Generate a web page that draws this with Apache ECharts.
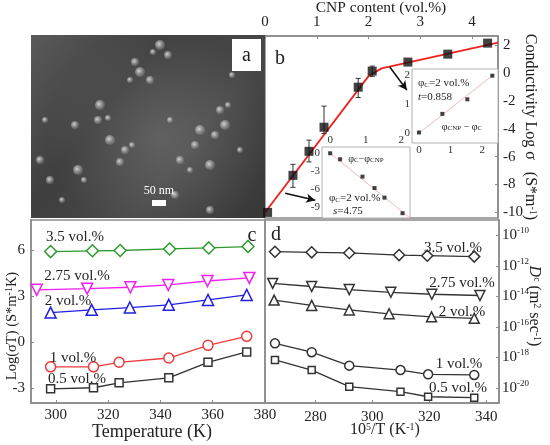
<!DOCTYPE html>
<html><head><meta charset="utf-8">
<script src="https://cdn.jsdelivr.net/npm/echarts@6/dist/echarts.min.js"></script>
<style>html,body{margin:0;padding:0;background:#fff}#c{width:550px;height:445px}</style>
</head><body><div id="c"></div>
<script>
// ---------- Panel b: conductivity vs CNP content ----------
const bX = [0.05, 0.54, 0.85, 1.14, 1.8, 2.07, 2.76, 3.53, 4.3];
const bY = [-10, -7.34, -5.62, -3.89, -1.02, 0.13, 0.78, 1.35, 2.14];
const errX = [0.54, 0.85, 1.14, 1.8, 2.07];
const errLo = [-8.2, -6.38, -4.34, -1.76, -0.25];
const errHi = [-6.55, -4.82, -2.38, -0.39, 0.49];
const fitX = [0, 2.0, 2.25, 4.5];
const fitY = [-10, -0.23, 0.33, 2.17];
const bTicksX = [0, 1, 2, 3, 4];
const bTicksY = [-10, -8, -6, -4, -2, 0, 2];
// inset 1 (above threshold)
const in1X = [0, 0.74, 1.53, 2.32];
const in1Y = [0.02, 0.66, 1.16, 1.97];
const in1FitX = [0, 2.38];
const in1FitY = [0, 2.02];
const in1Ticks = [0, 1, 2];
// inset 2 (below threshold)
const in2X = [0, 0.28, 0.91, 1.25, 1.53, 2.04];
const in2Y = [0, -1, -3.9, -5.8, -7.4, -10.0];
const in2FitX = [0, 2.25];
const in2FitY = [0, -10.8];
const in2TicksX = [0, 1, 2];
const in2TicksY = [-9, -6, -3, 0];
// arrows (annotation start/end in data coords of panel b)
const arrow1 = [[2.41, 0.42], [2.74, -1.23]];
const arrow2 = [[0.39, -8.63], [0.97, -9.13]];

// ---------- Panel c: Log(sigma T) vs Temperature ----------
const cNames = ['3.5 vol.%', '2.75 vol.%', '2 vol.%', '1 vol.%', '0.5 vol.%'];
const cT35 = [298, 314, 324.6, 343.5, 358.5, 373.5];
const cV35 = [5.93, 5.98, 6.0, 6.1, 6.17, 6.26];
const cT275 = [292.7, 312, 328.5, 343, 358, 374];
const cV275 = [3.42, 3.5, 3.59, 3.74, 4.0, 4.2];
const cT2 = [298, 313.7, 328.3, 343.2, 358.2, 373];
const cV2 = [1.93, 2.11, 2.26, 2.44, 2.76, 3.09];
const cT1 = [298, 314.4, 324.2, 343.2, 358.2, 373];
const cV1 = [-1.63, -1.63, -1.33, -1.05, -0.22, 0.37];
const cT05 = [298, 314.4, 324.2, 343.2, 358.2, 373];
const cV05 = [-3.07, -3.0, -2.68, -2.35, -1.33, -0.65];
const cTicksX = [300, 320, 340, 360, 380];
const cTicksY = [-3, 0, 3, 6];

// ---------- Panel d: D^c (log10) vs 10^5/T ----------
const dX35 = [265.8, 278.7, 291.9, 309.4, 319.3, 335.8];
const dV35 = [-11.08, -11.12, -11.16, -11.3, -11.34, -11.4];
const dX275 = [265.0, 278.7, 291.9, 306.5, 320.9, 337.8];
const dV275 = [-13.16, -13.36, -13.56, -13.74, -13.87, -13.95];
const dX2 = [265.5, 278.7, 291.9, 305.9, 320.8, 335.8];
const dV2 = [-14.25, -14.6, -14.9, -15.15, -15.35, -15.45];
const dX1 = [265.8, 278.7, 291.9, 309.9, 319.6, 335.8];
const dV1 = [-17.09, -17.67, -18.55, -18.84, -19.12, -19.16];
const dX05 = [265.8, 278.7, 291.9, 309.9, 319.6, 335.8];
const dV05 = [-18.18, -18.84, -19.93, -20.26, -20.59, -20.65];
const dTicksX = [280, 300, 320, 340];
const dTicksY = [-20, -18, -16, -14, -12, -10];

const zip = (a, b) => a.map((v, i) => [v, b[i]]);
const F = 'Liberation Serif, Times New Roman, serif';
const FRAME = '#8a8a8a';
const DIAMOND = 'path://M0,-1L1,0L0,1L-1,0Z';

const chart = echarts.init(document.getElementById('c'));

function vAxis(o) {
  return Object.assign({
    type: 'value',
    axisLine: {show: true, onZero: false, lineStyle: {color: FRAME, width: 1.5}},
    axisTick: {show: true, inside: true, length: 3, lineStyle: {color: FRAME}, customValues: o.ticks},
    axisLabel: {color: '#222', fontFamily: F, fontSize: 15, margin: 5, customValues: o.ticks},
    splitLine: {show: false}
  }, o.extra || {});
}

function cSeries(name, x, y, color, symbol, rotate, gi, size) {
  return {
    type: 'line', name, xAxisIndex: gi, yAxisIndex: gi,
    data: zip(x, y), symbol, symbolSize: size,
    symbolRotate: rotate || 0,
    lineStyle: {color, width: 1.3},
    itemStyle: {color: '#fff', borderColor: color, borderWidth: 1.5},
    z: 3
  };
}

const supRich = {
  b: {fontSize: 15, fontFamily: F, lineHeight: 18, color: '#222'},
  sup: {fontSize: 9, fontFamily: F, lineHeight: 9, verticalAlign: 'top', color: '#222'}
};

function txt(x, y, text, size, extra) {
  return Object.assign({
    type: 'text', x, y, z: 50,
    style: Object.assign({text, fontFamily: F, fontSize: size, fill: '#222',
      align: 'center', verticalAlign: 'middle'}, (extra && extra.style) || {})
  }, (extra && extra.el) || {});
}

const titleRich = {
  sup: {fontSize: 10, fontFamily: F, lineHeight: 10, verticalAlign: 'top', fill: '#222'},
  sub: {fontSize: 9, fontFamily: F, lineHeight: 9, verticalAlign: 'bottom', fill: '#222'},
  it: {fontStyle: 'italic', fontSize: 16, fontFamily: F, fill: '#222'}
};
const insetRich = {
  sub: {fontSize: 7, fontFamily: F, verticalAlign: 'bottom', lineHeight: 6, fill: '#222'},
  it: {fontStyle: 'italic', fontSize: 11, fontFamily: F, fill: '#222'}
};

// SEM texture: bright nanoparticle clusters (decorative, panel a picture)
const semBlobs = [
  [160,45,5],[168,55,4],[153,52,3],[135,62,4],[140,72,5],[150,80,4],[130,80,3],
  [100,105,5],[98,120,4],[108,118,3],[75,125,4],[110,140,5],[125,150,4],[132,145,3],
  [120,162,4],[78,170,5],[84,180,3],[50,180,4],[200,130,5],[215,135,4],[225,125,5],
  [195,145,4],[180,160,4],[210,165,5],[190,170,3],[220,110,4],[228,105,3],[175,195,4],
  [210,210,4],[45,120,3],[40,160,4],[62,200,3],[240,150,3],[170,120,3],[232,75,3]
];

const option = {
  animation: false,
  backgroundColor: '#fff',
  grid: [
    {left: 265, top: 36, width: 233, height: 182, show: true, borderColor: FRAME, borderWidth: 1.5, backgroundColor: 'transparent'},
    {left: 412, top: 69, width: 86, height: 74, show: true, borderColor: '#b0b0b0', borderWidth: 1, backgroundColor: '#fff', z: 4},
    {left: 322, top: 147, width: 88, height: 71, show: true, borderColor: '#b0b0b0', borderWidth: 1, backgroundColor: '#fff', z: 4},
    {left: 31, top: 220, width: 234, height: 183, show: true, borderColor: FRAME, borderWidth: 1.5},
    {left: 265, top: 220, width: 234, height: 183, show: true, borderColor: FRAME, borderWidth: 1.5}
  ],
  xAxis: [
    vAxis({ticks: bTicksX, extra: {gridIndex: 0, position: 'top', min: 0, max: 4.5,
      axisLabel: {color: '#222', fontFamily: F, fontSize: 15, margin: 6, customValues: bTicksX}}}),
    vAxis({ticks: in1Ticks, extra: {gridIndex: 1, min: -0.22, max: 2.5,
      axisLine: {show: false}, axisTick: {show: false},
      axisLabel: {color: '#333', fontFamily: F, fontSize: 11, margin: 2, customValues: in1Ticks}, z: 5}}),
    vAxis({ticks: in2TicksX, extra: {gridIndex: 2, position: 'top', min: -0.23, max: 2.25,
      axisLine: {show: false}, axisTick: {show: false},
      axisLabel: {color: '#333', fontFamily: F, fontSize: 11, margin: 1, customValues: in2TicksX}, z: 5}}),
    vAxis({ticks: cTicksX, extra: {gridIndex: 3, min: 290.5, max: 380}}),
    vAxis({ticks: dTicksX, extra: {gridIndex: 4, min: 262.3, max: 344.5,
      axisLabel: {color: '#222', fontFamily: F, fontSize: 15, margin: 7, customValues: dTicksX}}})
  ],
  yAxis: [
    vAxis({ticks: bTicksY, extra: {gridIndex: 0, position: 'right', min: -10.4, max: 2.65}}),
    vAxis({ticks: in1Ticks, extra: {gridIndex: 1, min: -0.34, max: 2.2,
      axisLine: {show: false}, axisTick: {show: false},
      axisLabel: {color: '#333', fontFamily: F, fontSize: 11, margin: 2, customValues: in1Ticks}, z: 5}}),
    vAxis({ticks: in2TicksY, extra: {gridIndex: 2, min: -10.8, max: 1.05,
      axisLine: {show: false}, axisTick: {show: false},
      axisLabel: {color: '#333', fontFamily: F, fontSize: 11, margin: 2, customValues: in2TicksY}, z: 5}}),
    vAxis({ticks: cTicksY, extra: {gridIndex: 3, min: -4, max: 8,
      axisLabel: {color: '#222', fontFamily: F, fontSize: 15, margin: 6, customValues: cTicksY}}}),
    vAxis({ticks: dTicksY, extra: {gridIndex: 4, position: 'right', min: -21, max: -9,
      axisLabel: {customValues: dTicksY, margin: 3, formatter: v => '{b|10}{sup|' + v + '}', rich: supRich}}})
  ],
  series: [
    // panel b fit line (red) with arrows
    {type: 'line', xAxisIndex: 0, yAxisIndex: 0, data: zip(fitX, fitY), symbol: 'none',
      lineStyle: {color: '#ee2020', width: 1.8}, z: 2,
      markLine: {silent: true, symbol: ['none', 'arrow'], symbolSize: [7, 9],
        label: {show: false}, lineStyle: {color: '#111', width: 1.6, type: 'solid'},
        data: [[{coord: arrow1[0]}, {coord: arrow1[1]}], [{coord: arrow2[0]}, {coord: arrow2[1]}]]}},
    // error bars
    {type: 'custom', xAxisIndex: 0, yAxisIndex: 0,
      data: errX.map((x, i) => [x, errLo[i], errHi[i]]),
      encode: {x: 0, y: [1, 2]}, z: 3,
      renderItem: (params, api) => {
        const x = api.value(0);
        const p1 = api.coord([x, api.value(2)]);
        const p2 = api.coord([x, api.value(1)]);
        const w = 2.5, st = {stroke: '#333', lineWidth: 1};
        return {type: 'group', children: [
          {type: 'line', shape: {x1: p1[0], y1: p1[1], x2: p2[0], y2: p2[1]}, style: st},
          {type: 'line', shape: {x1: p1[0] - w, y1: p1[1], x2: p1[0] + w, y2: p1[1]}, style: st},
          {type: 'line', shape: {x1: p2[0] - w, y1: p2[1], x2: p2[0] + w, y2: p2[1]}, style: st}
        ]};
      }},
    {type: 'scatter', xAxisIndex: 0, yAxisIndex: 0, data: zip(bX, bY), symbol: 'rect', symbolSize: 9,
      itemStyle: {color: '#111'}, z: 4},
    // inset 1
    {type: 'line', xAxisIndex: 1, yAxisIndex: 1, data: zip(in1FitX, in1FitY), symbol: 'none',
      lineStyle: {color: '#f2b8b8', width: 1}, z: 6},
    {type: 'scatter', xAxisIndex: 1, yAxisIndex: 1, data: zip(in1X, in1Y), symbol: 'rect', symbolSize: 4,
      itemStyle: {color: '#111'}, z: 7},
    // inset 2
    {type: 'line', xAxisIndex: 2, yAxisIndex: 2, data: zip(in2FitX, in2FitY), symbol: 'none',
      lineStyle: {color: '#f2b8b8', width: 1}, z: 6},
    {type: 'scatter', xAxisIndex: 2, yAxisIndex: 2, data: zip(in2X, in2Y), symbol: 'rect', symbolSize: 4,
      itemStyle: {color: '#111'}, z: 7},
    // panel c
    cSeries(cNames[0], cT35, cV35, '#2e9a2e', DIAMOND, 0, 3, 12),
    cSeries(cNames[1], cT275, cV275, '#f020f0', 'triangle', 180, 3, 11),
    cSeries(cNames[2], cT2, cV2, '#2020e0', 'triangle', 0, 3, 11),
    cSeries(cNames[3], cT1, cV1, '#ee3a3a', 'circle', 0, 3, 10),
    cSeries(cNames[4], cT05, cV05, '#333333', 'rect', 0, 3, 8),
    // panel d
    cSeries(cNames[0], dX35, dV35, '#333333', DIAMOND, 0, 4, 11),
    cSeries(cNames[1], dX275, dV275, '#333333', 'triangle', 180, 4, 10),
    cSeries(cNames[2], dX2, dV2, '#333333', 'triangle', 0, 4, 10),
    cSeries(cNames[3], dX1, dV1, '#333333', 'circle', 0, 4, 9),
    cSeries(cNames[4], dX05, dV05, '#333333', 'rect', 0, 4, 7)
  ],
  graphic: [
    // panel a: SEM micrograph placeholder
    {type: 'rect', z: 1, shape: {x: 31, y: 35, width: 234, height: 183},
      style: {fill: {type: 'linear', x: 0, y: 0, x2: 1, y2: 1, colorStops: [
        {offset: 0, color: '#6a6a6a'}, {offset: 0.35, color: '#474747'},
        {offset: 0.65, color: '#525252'}, {offset: 1, color: '#3c3c3c'}]}}},
    {type: 'rect', z: 1, shape: {x: 31, y: 35, width: 234, height: 183},
      style: {fill: {type: 'radial', x: 0.55, y: 0.55, r: 0.6, colorStops: [
        {offset: 0, color: 'rgba(150,150,150,0.25)'}, {offset: 1, color: 'rgba(40,40,40,0.25)'}]}}}
  ].concat(semBlobs.map(b => ({
    type: 'circle', z: 1, shape: {cx: b[0], cy: b[1], r: b[2]},
    style: {fill: {type: 'radial', x: 0.4, y: 0.4, r: 0.6, colorStops: [
      {offset: 0, color: 'rgba(235,235,235,0.85)'}, {offset: 1, color: 'rgba(150,150,150,0.3)'}]}}
  }))).concat([
    {type: 'rect', z: 2, shape: {x: 232, y: 39, width: 29, height: 32}, style: {fill: '#fff'}},
    txt(246.5, 56, 'a', 20),
    txt(159, 191, '50 nm', 12, {style: {fill: '#fff'}}),
    {type: 'rect', z: 2, shape: {x: 152, y: 200, width: 14, height: 6}, style: {fill: '#fff'}},
    // panel letters
    txt(280, 59, 'b', 20),
    txt(252, 236, 'c', 20),
    txt(276, 235, 'd', 20),
    // axis titles
    txt(381, 8, 'CNP content (vol.%)', 15.5),
    txt(530, 127, 'Conductivity Log σ   (S*m{sup|-1})', 16,
      {style: {rich: titleRich}, el: {rotation: -Math.PI / 2}}),
    txt(12, 326, 'Log(σT) (S*m{sup|-1}K)', 14.5,
      {style: {rich: titleRich}, el: {rotation: Math.PI / 2}}),
    txt(152, 432, 'Temperature (K)', 18),
    txt(385, 430, '10{sup|5}/T (K{sup|-1})', 16, {style: {rich: titleRich}}),
    txt(534, 306, '{it|D}{sup|c} (m{sup|2} sec{sup|-1})', 16,
      {style: {rich: titleRich}, el: {rotation: -Math.PI / 2}}),
    // panel c series labels
    txt(75, 237, '3.5 vol.%', 15),
    txt(77, 276, '2.75 vol.%', 15),
    txt(68, 301, '2 vol.%', 15),
    txt(73, 358, '1 vol.%', 15),
    txt(77, 379, '0.5 vol.%', 15),
    // panel d series labels
    txt(453, 248, '3.5 vol.%', 15),
    txt(462, 283, '2.75 vol.%', 15),
    txt(462, 312, '2 vol.%', 15),
    txt(459, 364, '1 vol.%', 15),
    txt(458, 388, '0.5 vol.%', 15),
    // inset texts
    txt(418, 83, 'φ{sub|C}=2 vol.%', 11, {style: {align: 'left', rich: insetRich}}),
    txt(418, 97, '{it|t}=0.858', 11, {style: {align: 'left', rich: insetRich}}),
    txt(462, 127, 'φ{sub|CNP} − φ{sub|C}', 10, {style: {rich: insetRich}}),
    txt(366, 159, 'φ{sub|C}−φ{sub|CNP}', 10, {style: {rich: insetRich}}),
    txt(329, 198, 'φ{sub|C}=2 vol.%', 11, {style: {align: 'left', rich: insetRich}}),
    txt(333, 211, '{it|s}=4.75', 11, {style: {align: 'left', rich: insetRich}})
  ])
};
chart.setOption(option);
</script>
</body></html>
